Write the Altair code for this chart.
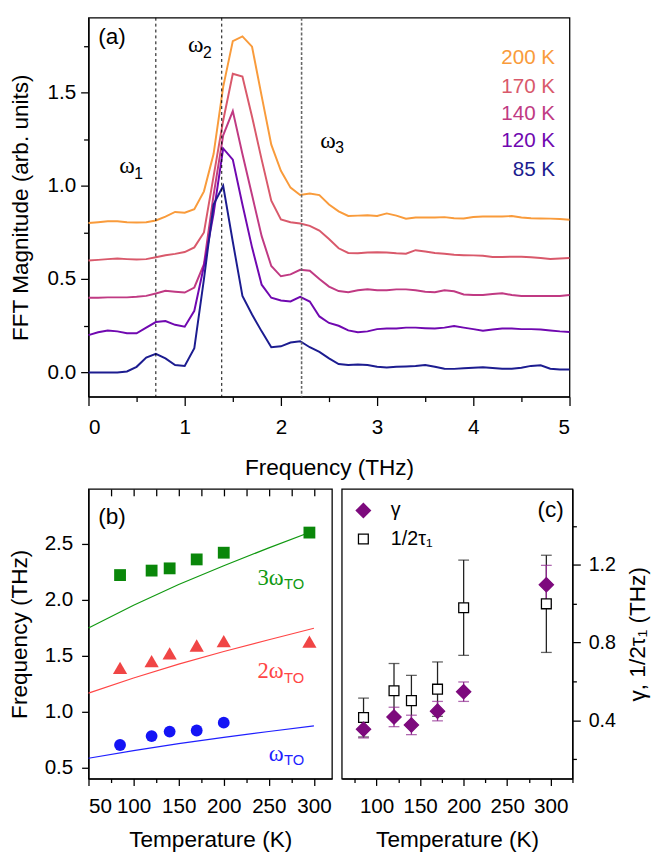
import altair as alt
import pandas as pd

# ---------------- Panel (a) data ----------------
freq = [0.0, 0.1, 0.2, 0.3, 0.4, 0.5, 0.6, 0.7, 0.8, 0.9,
        1.0, 1.1, 1.2, 1.3, 1.4, 1.5, 1.6, 1.7, 1.8, 1.9,
        2.0, 2.1, 2.2, 2.3, 2.4, 2.5, 2.6, 2.7, 2.8, 2.9,
        3.0, 3.1, 3.2, 3.3, 3.4, 3.5, 3.6, 3.7, 3.8, 3.9,
        4.0, 4.1, 4.2, 4.3, 4.4, 4.5, 4.6, 4.7, 4.8, 4.9, 5.0]

amp_85 = [0.00, 0.00, 0.00, 0.00, 0.005, 0.03, 0.08, 0.10, 0.075, 0.04,
          0.035, 0.13, 0.50, 0.90, 1.00, 0.70, 0.41, 0.31, 0.22, 0.135,
          0.14, 0.16, 0.167, 0.135, 0.11, 0.075, 0.045, 0.04, 0.042, 0.04,
          0.03, 0.026, 0.03, 0.032, 0.035, 0.04, 0.03, 0.02, 0.019, 0.022,
          0.025, 0.028, 0.024, 0.02, 0.02, 0.025, 0.035, 0.038, 0.02, 0.016, 0.016]
amp_120 = [0.20, 0.215, 0.225, 0.22, 0.21, 0.21, 0.24, 0.27, 0.275, 0.255,
           0.245, 0.33, 0.57, 0.85, 1.20, 1.14, 0.90, 0.67, 0.47, 0.40,
           0.385, 0.38, 0.405, 0.38, 0.30, 0.265, 0.25, 0.225, 0.215, 0.22,
           0.232, 0.235, 0.235, 0.24, 0.24, 0.237, 0.235, 0.24, 0.249, 0.24,
           0.232, 0.223, 0.23, 0.235, 0.235, 0.232, 0.232, 0.23, 0.225, 0.22, 0.217]
amp_140 = [0.40, 0.40, 0.402, 0.402, 0.402, 0.405, 0.41, 0.423, 0.437, 0.432,
           0.428, 0.455, 0.58, 0.95, 1.27, 1.40, 1.17, 0.95, 0.73, 0.57,
           0.515, 0.525, 0.55, 0.545, 0.50, 0.46, 0.436, 0.43, 0.44, 0.446,
           0.44, 0.44, 0.445, 0.445, 0.44, 0.432, 0.43, 0.44, 0.435, 0.418,
           0.415, 0.415, 0.42, 0.424, 0.415, 0.41, 0.41, 0.41, 0.41, 0.41, 0.415]
amp_170 = [0.60, 0.603, 0.607, 0.61, 0.607, 0.605, 0.607, 0.617, 0.628, 0.635,
           0.645, 0.67, 0.75, 1.05, 1.35, 1.60, 1.585, 1.37, 1.14, 0.92,
           0.82, 0.805, 0.798, 0.785, 0.76, 0.715, 0.665, 0.64, 0.638, 0.642,
           0.644, 0.643, 0.638, 0.636, 0.655, 0.648, 0.64, 0.636, 0.63, 0.628,
           0.627, 0.625, 0.618, 0.618, 0.62, 0.62, 0.617, 0.613, 0.608, 0.61, 0.613]
amp_200 = [0.80, 0.805, 0.81, 0.81, 0.805, 0.803, 0.805, 0.814, 0.835, 0.86,
           0.856, 0.875, 0.97, 1.17, 1.53, 1.775, 1.80, 1.745, 1.48, 1.22,
           1.08, 0.99, 0.951, 0.958, 0.95, 0.90, 0.863, 0.838, 0.84, 0.842,
           0.838, 0.852, 0.84, 0.823, 0.83, 0.83, 0.83, 0.832, 0.826, 0.825,
           0.833, 0.835, 0.835, 0.835, 0.838, 0.83, 0.826, 0.825, 0.824, 0.822, 0.818]

temps_a = ["200 K", "170 K", "140 K", "120 K", "85 K"]
colors_a = ["#f99b3b", "#d9596b", "#c03a83", "#7008b0", "#1c1c90"]
series_a = [amp_200, amp_170, amp_140, amp_120, amp_85]
legend_y_a = [1.684, 1.53, 1.384, 1.237, 1.084]

omega_f = [0.70, 1.385, 2.215]
omega_lbl_x = [0.40, 1.115, 2.49]
omega_lbl_y = [1.105, 1.756, 1.237]
omega_sub = ["1", "2", "3"]
omega_sub_x = [0.52, 1.235, 2.61]
omega_sub_y = [1.065, 1.71, 1.20]

# ---------------- Panel (b) data ----------------
T_b = [85, 120, 140, 170, 200, 295]
f_sq = [2.22, 2.26, 2.28, 2.36, 2.42, 2.60]
f_tri = [1.39, 1.45, 1.52, 1.59, 1.63, 1.625]
T_circ = [85, 120, 140, 170, 200]
f_circ = [0.70, 0.78, 0.82, 0.83, 0.90]

T_line = [50, 100, 150, 200, 250, 300]
w_to = [0.582, 0.65, 0.712, 0.768, 0.821, 0.872]
w2_to = [1.164, 1.30, 1.424, 1.536, 1.642, 1.744]
w3_to = [1.746, 1.95, 2.136, 2.304, 2.463, 2.616]

# ---------------- Panel (c) data ----------------
T_c = [85, 120, 140, 170, 200, 295]
gamma = [0.354, 0.417, 0.376, 0.447, 0.547, 1.097]
gamma_err = [0.045, 0.05, 0.05, 0.05, 0.05, 0.10]
tau = [0.414, 0.552, 0.501, 0.560, 0.979, 0.999]
tau_err = [0.10, 0.14, 0.13, 0.14, 0.245, 0.25]

SANS = "Liberation Sans"
SERIF = "Liberation Serif"
INDEP = dict(color="independent", shape="independent", fill="independent",
             stroke="independent", size="independent")

# ---------------- Build panel (a) ----------------
rows = []
for name, arr in zip(temps_a, series_a):
    for f, v in zip(freq, arr):
        rows.append({"f": f, "v": v, "Ta": name})
df_a = pd.DataFrame(rows)

xa = alt.X("f:Q", scale=alt.Scale(domain=[0, 5], nice=False, zero=False),
           axis=alt.Axis(title="Frequency (THz)",
                         values=[0, 0.5, 1, 1.5, 2, 2.5, 3, 3.5, 4, 4.5, 5],
                         labelExpr="datum.value % 1 === 0 ? format(datum.value, 'd') : ''",
                         tickSize={"condition": {"test": "datum.value % 1 === 0", "value": 9}, "value": 5},
                         labelPadding=12, titlePadding=19))
ya = alt.Y("v:Q", scale=alt.Scale(domain=[-0.13, 1.9], nice=False, zero=False),
           axis=alt.Axis(title="FFT Magnitude (arb. units)",
                         values=[0, 0.25, 0.5, 0.75, 1.0, 1.25, 1.5, 1.75],
                         labelExpr="datum.value % 0.5 === 0 ? format(datum.value, '.1f') : ''",
                         tickSize={"condition": {"test": "datum.value % 0.5 === 0", "value": 8}, "value": 5},
                         labelPadding=5, titlePadding=15))
color_a = alt.Color("Ta:N", scale=alt.Scale(domain=temps_a, range=colors_a), legend=None)

lines_a = alt.Chart(df_a).mark_line(strokeWidth=2).encode(x=xa, y=ya, color=color_a)

df_rule1 = pd.DataFrame({"f": omega_f[:2]})
df_rule2 = pd.DataFrame({"f": omega_f[2:]})
rules1 = alt.Chart(df_rule1).mark_rule(color="black", strokeDash=[3, 3], strokeWidth=1).encode(x="f:Q")
rules2 = alt.Chart(df_rule2).mark_rule(color="#666666", strokeDash=[3, 2], strokeWidth=1.6).encode(x="f:Q")

df_om = pd.DataFrame({"f": omega_lbl_x, "v": omega_lbl_y, "t": ["ω"] * 3})
om_txt = alt.Chart(df_om).mark_text(font=SERIF, fontSize=24, color="black").encode(
    x="f:Q", y="v:Q", text="t:N")
df_sub = pd.DataFrame({"f": omega_sub_x, "v": omega_sub_y, "t": omega_sub})
om_sub = alt.Chart(df_sub).mark_text(font=SANS, fontSize=16, color="black").encode(
    x="f:Q", y="v:Q", text="t:N")

df_leg_a = pd.DataFrame({"f": [4.85] * 5, "v": legend_y_a, "Ta": temps_a})
leg_a = alt.Chart(df_leg_a).mark_text(font=SANS, fontSize=21, align="right").encode(
    x="f:Q", y="v:Q", text="Ta:N", color=color_a)

df_lab_a = pd.DataFrame({"f": [0.245], "v": [1.795], "t": ["(a)"]})
lab_a = alt.Chart(df_lab_a).mark_text(font=SANS, fontSize=23, color="black").encode(
    x="f:Q", y="v:Q", text="t:N")

panel_a = alt.layer(lines_a, rules1, rules2, om_txt, om_sub, leg_a, lab_a).properties(width=490, height=386)

# ---------------- Build panel (b) ----------------
tvals_b = [50, 75, 100, 125, 150, 175, 200, 225, 250, 275, 300]
xb_scale = alt.Scale(domain=[50, 320], nice=False, zero=False)
yb_scale = alt.Scale(domain=[0.4, 2.99], nice=False, zero=False)
xb = alt.X("Tb:Q", scale=xb_scale,
           axis=alt.Axis(title="Temperature (K)", values=tvals_b,
                         labelExpr="datum.value % 50 === 0 ? format(datum.value, 'd') : ''",
                         tickSize={"condition": {"test": "datum.value % 50 === 0", "value": 7}, "value": 4},
                         labelPadding=11, titlePadding=12))
yb = alt.Y("Fb:Q", scale=yb_scale,
           axis=alt.Axis(title="Frequency (THz)",
                         values=[0.5, 0.75, 1.0, 1.25, 1.5, 1.75, 2.0, 2.25, 2.5, 2.75],
                         labelExpr="datum.value % 0.5 === 0 ? format(datum.value, '.1f') : ''",
                         tickSize={"condition": {"test": "datum.value % 0.5 === 0", "value": 7}, "value": 4},
                         labelPadding=9, titlePadding=13))
xb_plain = alt.X("Tb:Q", scale=xb_scale, axis=None)
yb_plain = alt.Y("Fb:Q", scale=yb_scale)

line_rows = []
for name, arr in zip(["w1", "w2", "w3"], [w_to, w2_to, w3_to]):
    for t, v in zip(T_line, arr):
        line_rows.append({"Tb": t, "Fb": v, "sbl": name})
df_lines_b = pd.DataFrame(line_rows)
line_col = alt.Color("sbl:N", scale=alt.Scale(domain=["w1", "w2", "w3"],
                                              range=["#1f1fff", "#ff4545", "#119911"]), legend=None)
lines_b = alt.Chart(df_lines_b).mark_line(strokeWidth=1.2).encode(x=xb, y=yb, color=line_col)

df_sq = pd.DataFrame({"Tb": T_b, "Fb": f_sq})
df_tri = pd.DataFrame({"Tb": T_b, "Fb": f_tri})
df_circ = pd.DataFrame({"Tb": T_circ, "Fb": f_circ})
pts_sq = alt.Chart(df_sq).mark_point(filled=True, opacity=1, shape="square", size=145,
                                     color="#0a870a").encode(x=xb_plain, y=yb_plain)
pts_tri = alt.Chart(df_tri).mark_point(filled=True, opacity=1, shape="triangle-up", size=210,
                                       color="#f04545").encode(x=xb_plain, y=yb_plain)
pts_circ = alt.Chart(df_circ).mark_point(filled=True, opacity=1, shape="circle", size=145,
                                         color="#1414f5").encode(x=xb_plain, y=yb_plain)

# top inward ticks
df_top = pd.DataFrame({"Tb": [50], "Fb": [1.0]})
top_ax = alt.Chart(df_top).mark_point(opacity=0).encode(
    x=alt.X("Tb:Q", scale=xb_scale,
            axis=alt.Axis(orient="top", title=None, labels=False, domain=False,
                          values=tvals_b[1:], tickSize=7, offset=-7)),
    y=yb_plain)

ann_main = pd.DataFrame({"Tb": [252, 252, 258], "Fb": [2.196, 1.362, 0.617],
                         "t": ["3ω", "2ω", "ω"], "sbl": ["w3", "w2", "w1"]})
ann_sub = pd.DataFrame({"Tb": [278, 278, 278], "Fb": [2.14, 1.30, 0.564],
                        "t": ["TO", "TO", "TO"], "sbl": ["w3", "w2", "w1"]})
ann_b1 = alt.Chart(ann_main).mark_text(font=SERIF, fontSize=23).encode(
    x=xb_plain, y=yb_plain, text="t:N", color=line_col)
ann_b2 = alt.Chart(ann_sub).mark_text(font=SANS, fontSize=15).encode(
    x=xb_plain, y=yb_plain, text="t:N", color=line_col)
df_lab_b = pd.DataFrame({"Tb": [76], "Fb": [2.74], "t": ["(b)"]})
lab_b = alt.Chart(df_lab_b).mark_text(font=SANS, fontSize=23, color="black").encode(
    x=xb_plain, y=yb_plain, text="t:N")

panel_b = alt.layer(lines_b, pts_sq, pts_tri, pts_circ, ann_b1, ann_b2, lab_b, top_ax).resolve_axis(
    x="independent").properties(width=248, height=295)

# ---------------- Build panel (c) ----------------
xc_scale = alt.Scale(domain=[60, 325], nice=False, zero=False)
yc_scale = alt.Scale(domain=[0.1, 1.59], nice=False, zero=False)
xc_axis = alt.Axis(title="Temperature (K)",
                   values=[75, 100, 125, 150, 175, 200, 225, 250, 275, 300, 325],
                   labelExpr="datum.value % 50 === 0 ? format(datum.value, 'd') : ''",
                   tickSize={"condition": {"test": "datum.value % 50 === 0", "value": 7}, "value": 4},
                   labelPadding=11, titlePadding=12)
yc_axis = alt.Axis(title="γ, 1/2τ₁ (THz)", orient="right",
                   values=[0.2, 0.4, 0.6, 0.8, 1.0, 1.2, 1.4],
                   labelExpr="round(datum.value * 10) % 4 === 0 ? format(datum.value, '.1f') : ''",
                   tickSize={"condition": {"test": "round(datum.value * 10) % 4 === 0", "value": 8}, "value": 4},
                   labelPadding=8, titlePadding=12, titleAngle=270, titleBaseline="top",
                   labelFontSize=20)
xc = alt.X("Tc:Q", scale=xc_scale, axis=xc_axis)
yc = alt.Y("vc:Q", scale=yc_scale, axis=yc_axis)

tau_lo = [a - b for a, b in zip(tau, tau_err)]
tau_hi = [a + b for a, b in zip(tau, tau_err)]
g_lo = [a - b for a, b in zip(gamma, gamma_err)]
g_hi = [a + b for a, b in zip(gamma, gamma_err)]

df_tau_err = pd.DataFrame({"Tc": T_c, "lo": tau_lo, "hi": tau_hi})
df_g_err = pd.DataFrame({"Tc": T_c, "lo": g_lo, "hi": g_hi})


def errbars(df, col):
    r = alt.Chart(df).mark_rule(color=col, strokeWidth=1.3).encode(
        x=xc, y=alt.Y("lo:Q", scale=yc_scale, axis=yc_axis), y2="hi:Q")
    c1 = alt.Chart(df).mark_tick(color=col, orient="horizontal", size=11, thickness=1.3).encode(
        x=xc, y=alt.Y("lo:Q", scale=yc_scale, axis=yc_axis))
    c2 = alt.Chart(df).mark_tick(color=col, orient="horizontal", size=11, thickness=1.3).encode(
        x=xc, y=alt.Y("hi:Q", scale=yc_scale, axis=yc_axis))
    return [r, c1, c2]


series_c = ["γ", "1/2τ₁"]
pc_rows = []
for t, v in zip(T_c, gamma):
    pc_rows.append({"Tc": t, "vc": v, "sc": "γ", "o": 1})
for t, v in zip(T_c, tau):
    pc_rows.append({"Tc": t, "vc": v, "sc": "1/2τ₁", "o": 0})
df_pc = pd.DataFrame(pc_rows)

leg_c = alt.Legend(title=None, orient="top-left", offset=12, labelFont=SANS, labelFontSize=20,
                   labelOffset=18, rowPadding=9, symbolStrokeWidth=1.3, padding=0)
pts_c = alt.Chart(df_pc).mark_point(opacity=1, strokeWidth=1.3).encode(
    x=xc, y=yc,
    shape=alt.Shape("sc:N", scale=alt.Scale(domain=series_c, range=["diamond", "square"]), legend=leg_c),
    fill=alt.Fill("sc:N", scale=alt.Scale(domain=series_c, range=["#7d0a7d", "white"]), legend=leg_c),
    stroke=alt.Stroke("sc:N", scale=alt.Scale(domain=series_c, range=["#7d0a7d", "black"]), legend=leg_c),
    size=alt.Size("sc:N", scale=alt.Scale(domain=series_c, range=[210, 100]), legend=leg_c),
    order=alt.Order("o:Q"))

df_lab_c = pd.DataFrame({"Tc": [300], "vc": [1.48], "t": ["(c)"]})
lab_c = alt.Chart(df_lab_c).mark_text(font=SANS, fontSize=23, color="black").encode(
    x=xc, y=yc, text="t:N")

panel_c = alt.layer(*errbars(df_tau_err, "#222222"), *errbars(df_g_err, "#8e2a8e"),
                    pts_c, lab_c).properties(width=235, height=295)

bottom = alt.hconcat(panel_b, panel_c, spacing=8).resolve_scale(**INDEP).resolve_legend(
    color="independent", shape="independent", fill="independent", stroke="independent", size="independent")
chart = alt.vconcat(panel_a, bottom, spacing=7).resolve_scale(**INDEP).resolve_legend(
    color="independent", shape="independent", fill="independent", stroke="independent", size="independent"
).properties(
    padding={"left": 0, "top": 0, "right": 0, "bottom": 0}
).configure_view(stroke="black", strokeWidth=1.3).configure_axis(
    labelFont=SANS, labelFontSize=21, titleFont=SANS, titleFontSize=23,
    titleFontWeight="normal", labelColor="black", titleColor="black",
    domainColor="black", tickColor="black", domainWidth=1.3, tickWidth=1.3, grid=False
).configure_legend(labelColor="black")

chart.save("out.html", embed_options={"renderer": "svg", "actions": False})
